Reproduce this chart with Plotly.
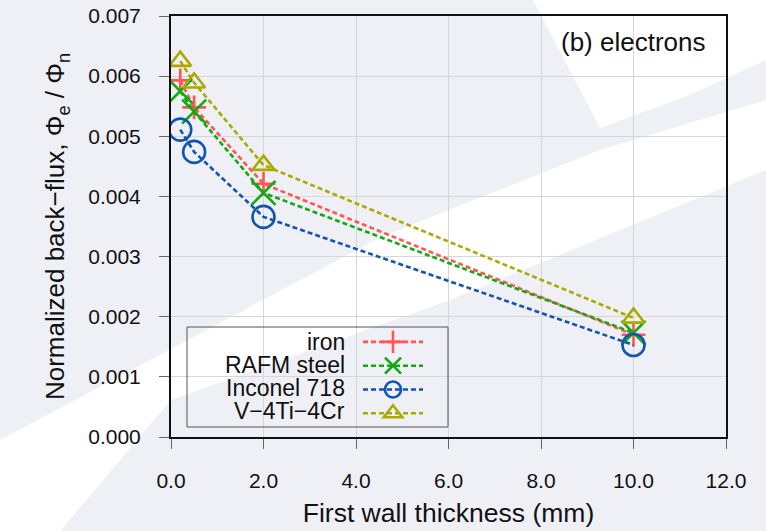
import plotly.graph_objects as go

# ---- data ----
thickness = [0.2, 0.5, 2.0, 10.0]
iron = [0.00593, 0.00548, 0.00421, 0.00170]
rafm_steel = [0.00575, 0.00541, 0.00406, 0.00173]
inconel_718 = [0.00511, 0.00474, 0.00366, 0.00153]
v4ti4cr = [0.00625, 0.00589, 0.00452, 0.00198]

series_names = ["iron", "RAFM steel", "Inconel 718", "V−4Ti−4Cr"]
series_values = [iron, rafm_steel, inconel_718, v4ti4cr]
colors = ["#ff5555", "#11aa11", "#1155b0", "#aaaa00"]
symbols = ["cross-thin-open", "x-thin-open", "circle-open", "triangle-up-open"]
sizes = [17, 24, 22, 19]

x_ticks = [0, 2, 4, 6, 8, 10, 12]
y_ticks = [0.000, 0.001, 0.002, 0.003, 0.004, 0.005, 0.006, 0.007]

W, H = 766, 531
L, R, T, B = 171, 40, 16, 94
PW, PH = W - L - R, H - T - B


def px(xp):
    return (xp - L) / PW


def py(yp):
    return (H - B - yp) / PH


FONT = "Liberation Sans, Arial, sans-serif"

fig = go.Figure()
for name, vals, c, s, sz in zip(series_names, series_values, colors, symbols, sizes):
    fig.add_trace(go.Scatter(
        x=thickness, y=vals, name=" ", mode="lines+markers",
        line=dict(color=c, width=2.6, dash="5px,3px"),
        marker=dict(symbol=s, size=sz, color=c, line=dict(color=c, width=2.6)),
        showlegend=True,
    ))

# background decoration (white diagonal bands on lavender)
bands = [
    [(0, 440), (383, 236), (600, 150), (766, 100), (766, 170), (450, 300),
     (171, 400), (60, 531), (0, 531)],
    [(533, 0), (766, 0), (766, 60), (690, 95), (600, 128)],
]
shapes = []
for poly in bands:
    path = "M " + " L ".join(f"{px(a):.4f},{py(b):.4f}" for a, b in poly) + " Z"
    shapes.append(dict(type="path", xref="paper", yref="paper", path=path,
                       fillcolor="white", line=dict(width=0), layer="below"))
# legend frame
shapes.append(dict(type="rect", xref="paper", yref="paper",
                   x0=px(187), x1=px(448), y0=py(427), y1=py(327),
                   line=dict(color="#555555", width=1), layer="above"))

annotations = [
    dict(text="(b) electrons", xref="paper", yref="paper", x=px(708), y=py(42),
         xanchor="right", yanchor="middle", showarrow=False,
         font=dict(size=26, color="#111111", family=FONT)),
]
row_y = [342, 365, 388, 411]
for name, ry in zip(series_names, row_y):
    annotations.append(dict(text=name, xref="paper", yref="paper", x=px(347), y=py(ry),
                            xanchor="right", yanchor="middle", showarrow=False,
                            font=dict(size=23, color="#111111", family=FONT)))

fig.update_layout(
    width=W, height=H,
    margin=dict(l=L, r=R, t=T, b=B, autoexpand=False),
    paper_bgcolor="#efeff6",
    plot_bgcolor="rgba(0,0,0,0)",
    font=dict(family=FONT, size=21, color="#111111"),
    shapes=shapes,
    annotations=annotations,
    legend=dict(x=px(358), y=py(325), xanchor="left", yanchor="top",
                bgcolor="rgba(0,0,0,0)", borderwidth=0,
                font=dict(size=16), tracegroupgap=0, itemwidth=60),
    xaxis=dict(
        range=[0, 12], tickvals=x_ticks, tickformat=".1f", automargin=False,
        showgrid=True, gridcolor="#d6d6d6", gridwidth=1,
        showline=True, linecolor="#111111", linewidth=2, mirror=True,
        ticks="outside", ticklen=10, tickcolor="#666666", ticklabelstandoff=14,
        zeroline=False,
        title=dict(text="First wall thickness (mm)", font=dict(size=26.5), standoff=12),
    ),
    yaxis=dict(
        range=[0, 0.007], tickvals=y_ticks, tickformat=".3f", automargin=False,
        showgrid=True, gridcolor="#d6d6d6", gridwidth=1,
        showline=True, linecolor="#111111", linewidth=2, mirror=True,
        ticks="outside", ticklen=10, tickcolor="#666666", ticklabelstandoff=14,
        zeroline=False,
        title=dict(text="Normalized back−flux, Φ<sub>e</sub> / Φ<sub>n</sub>",
                   font=dict(size=26), standoff=16),
    ),
)

fig.write_html(
    "out.html",
    config={"displayModeBar": False},
    post_script="document.body.style.margin='0';document.body.style.padding='0';"
                "document.body.style.overflow='hidden';",
)
